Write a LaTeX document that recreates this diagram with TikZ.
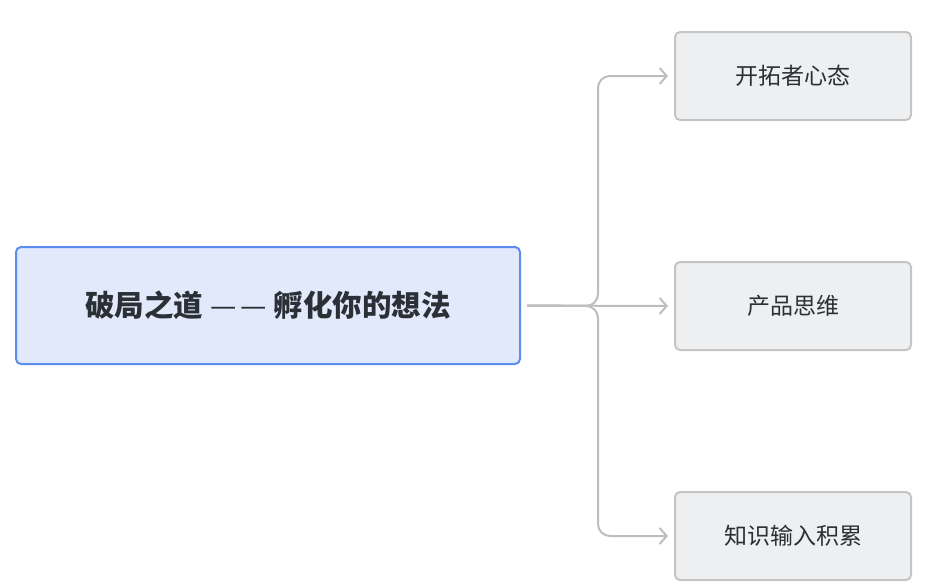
\documentclass[tikz,border=0pt]{standalone}
\usepackage{fontspec}
\newfontfamily\cjk{Noto Sans CJK SC}
\usetikzlibrary{arrows.meta}
\definecolor{mainfill}{HTML}{E1E9FA}
\definecolor{mainborder}{HTML}{5B8DEF}
\definecolor{subfill}{HTML}{EEEFF1}
\definecolor{subborder}{HTML}{C4C4C4}
\definecolor{linkgray}{HTML}{BDBDBD}
\definecolor{txt}{HTML}{2B2F36}
\tikzset{
  mainbox/.style={draw=mainborder, fill=mainfill, line width=2pt, rounded corners=5pt,
    minimum width=504pt, minimum height=117pt, inner sep=0pt, text=txt,
    font=\cjk\bfseries\fontsize{29.5}{34}\selectfont},
  subbox/.style={draw=subborder, fill=subfill, line width=2pt, rounded corners=5pt,
    minimum width=236pt, minimum height=88pt, inner sep=0pt, text=txt,
    font=\cjk\fontsize{23}{28}\selectfont},
  link/.style={draw=linkgray, line width=2pt, rounded corners=12pt,
    -{Straight Barb[length=7pt,width=16pt,line width=2pt]}}
}
\begin{document}
\begin{tikzpicture}[x=1pt,y=-1pt]
\useasboundingbox (0,0) rectangle (925,584);
\node[mainbox] (root) at (268,305.5) {破局之道 \textmd{—\kern4pt—} 孵化你的想法};
\node[subbox] (c1) at (793,76) {开拓者心态};
\node[subbox] (c2) at (793,306) {产品思维};
\node[subbox] (c3) at (793,536) {知识输入积累};
\coordinate (j) at (598,306);
\draw[link] ([xshift=6pt]root.east) -- (j) |- ([xshift=-6pt]c1.west);
\draw[link] ([xshift=6pt]root.east) -- (j) |- ([xshift=-6pt]c3.west);
\draw[link] ([xshift=6pt]root.east) -- ([xshift=-6pt]c2.west);
\end{tikzpicture}
\end{document}
